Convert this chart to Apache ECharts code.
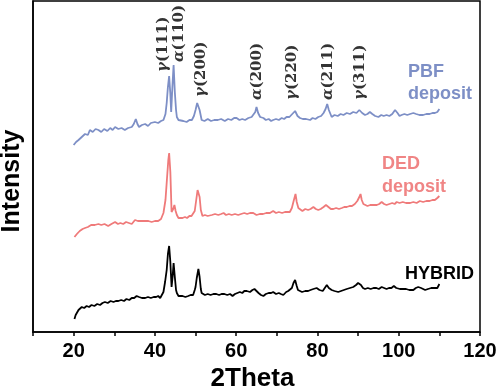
<!DOCTYPE html>
<html>
<head>
<meta charset="utf-8">
<script src="https://cdn.jsdelivr.net/npm/echarts@6/dist/echarts.min.js"></script>
<style>html,body{margin:0;padding:0;background:#fff}#c{width:498px;height:386px}</style>
</head>
<body>
<div id="c"></div>
<script>
// x ticks
var xTicks = [20, 40, 60, 80, 100, 120];

// PBF deposit pattern [2theta, intensity (offset)]
var pbf = [[20,187],[20.6,190],[21.2,192],[22,195],[22.8,198],[23.5,197],[24,202],[24.7,200],[25.4,203],[26.1,202],[26.8,200],[27.5,203],[28.3,201],[29,204],[29.6,202],[30.2,205],[31,203],[31.8,204],[32.6,202],[33.4,204],[34.3,205],[34.8,208],[35.3,213],[35.7,208],[36.1,205],[36.8,207],[37.6,208],[38.3,206],[39,209],[40,210],[40.8,209],[41.5,211],[42.1,212],[42.6,218],[42.9,229],[43.2,245],[43.5,256],[43.8,238],[44.0,220],[44.3,245],[44.6,267],[44.9,240],[45.2,222],[45.4,215],[45.8,212],[46.2,210],[47,211],[47.8,210],[48.5,212],[49.1,212],[49.6,216],[50.0,222],[50.4,229],[50.7,230],[51.0,222],[51.5,212],[52.2,211],[53,213],[53.8,211],[54.6,212],[55.5,212],[56.3,213],[57.2,211],[58,213],[58.8,212],[59.5,214],[60.1,214],[60.8,212],[61.5,213],[62.2,212],[63,214],[63.8,215],[64.2,216],[64.7,220],[65.0,225],[65.4,219],[65.9,215],[66.7,214],[67.3,212],[68,213],[68.6,211],[69.1,212],[69.8,213],[70.5,212],[71.2,214],[71.8,213],[72.4,215],[73.1,215],[73.8,218],[74.5,221],[75.1,216],[75.7,214],[76.4,213],[77.2,213],[78.2,212],[78.8,214],[79.5,213],[80.2,215],[80.9,216],[81.5,219],[82.0,223],[82.4,228],[82.8,222],[83.5,215],[84.2,217],[85,216],[85.7,218],[86.4,217],[87.2,219],[88,218],[88.8,220],[89.6,219],[90.3,222],[91,219],[91.7,217],[92.3,218],[92.9,220],[93.5,218],[94.2,216],[95.0,215],[95.7,217],[96.3,216],[97.0,217],[97.7,216],[98.4,218],[99.1,222],[99.7,219],[100.2,216],[100.7,217],[101.4,218],[102.1,217],[102.8,218],[103.6,219],[104.3,218],[105.1,217],[106,217],[106.8,218],[107.6,218],[108.3,219],[108.9,219],[109.5,220],[110,223]];

// DED deposit pattern
var ded = [[20.2,95],[20.8,98],[21.5,101],[22.2,103],[22.8,104],[23.5,105],[24.3,107],[25.2,107],[26.1,108],[26.8,107],[27.6,108],[28.5,106],[29.3,108],[30.2,110],[30.9,108],[31.5,109],[32.2,108],[32.9,110],[33.6,109],[34.3,108],[35.1,112],[35.8,111],[36.6,111],[37.5,111],[38.4,111],[39.2,110],[40,111],[40.8,111],[41.5,113],[42.1,119],[42.6,132],[43.0,155],[43.3,172],[43.5,179],[43.8,160],[44.1,120],[44.5,123],[44.8,127],[45.1,121],[45.4,117],[45.8,114],[46.2,112],[46.8,114],[47.4,115],[47.9,114],[48.5,116],[49.0,116],[49.4,117],[49.8,121],[50.2,133],[50.5,142],[50.7,144],[51.0,135],[51.3,122],[51.7,116],[52.3,117],[53,116],[54.0,117],[54.8,118],[55.6,117],[56.3,118],[56.9,119],[57.5,117],[58.2,118],[58.9,117],[59.7,118],[60.5,117],[61.2,118],[62,119],[62.7,118],[63.4,119],[64.2,119],[65.0,117],[65.8,118],[66.6,118],[67.4,119],[68.3,119],[69.1,121],[69.8,119],[70.5,120],[71.3,119],[72,120],[72.7,120],[73.2,120],[73.7,124],[74.2,132],[74.6,138],[74.9,130],[75.3,124],[75.7,122],[76.3,121],[77.0,123],[77.7,122],[78.3,123],[79.0,125],[79.6,123],[80.2,122],[80.8,123],[81.5,125],[82.1,127],[82.7,125],[83.3,123],[83.9,123],[84.6,124],[85.3,123],[86,124],[86.6,125],[87.2,125],[87.9,126],[88.5,126],[89.2,128],[89.8,131],[90.3,135],[90.6,138],[90.9,132],[91.3,128],[91.7,127],[92.3,126],[93,127],[93.8,127],[94.6,127],[95.2,128],[95.8,130],[96.4,128],[97,127],[97.7,128],[98.4,129],[99,128],[99.5,130],[100.2,129],[101,130],[101.8,129],[102.8,129],[103.6,130],[104.4,129],[105.2,131],[106,130],[106.8,131],[107.6,131],[108.3,132],[108.9,132],[109.5,134],[110,136]];

// HYBRID pattern
var hybrid = [[20.2,13],[20.5,17],[20.7,19],[21.2,22],[22.0,25],[22.6,24],[23.2,26],[23.8,25],[24.4,27],[25.1,26],[25.8,28],[26.5,27],[27.1,29],[27.7,30],[28.4,29],[29.1,31],[29.8,30],[30.4,31],[31.0,31],[31.7,32],[32.4,31],[33.0,33],[33.7,32],[34.3,34],[34.9,34],[35.5,36],[36.1,35],[36.8,34],[37.6,34],[38.3,35],[39.0,34],[39.7,35],[40.3,35],[40.8,36],[41.3,34],[41.7,34],[42.1,40],[42.5,50],[42.9,62],[43.2,78],[43.5,86],[43.8,70],[44.1,45],[44.35,55],[44.6,69],[44.9,55],[45.2,42],[45.4,39],[45.8,36],[46.2,35],[46.8,36],[47.5,35],[48.2,36],[48.8,37],[49.4,37],[49.8,42],[50.0,45],[50.3,54],[50.7,63],[51.0,55],[51.3,43],[51.5,39],[52.3,37],[53,38],[53.7,37],[54.4,38],[55.1,38],[55.8,37],[56.4,38],[57.1,38],[57.8,37],[58.5,38],[59.1,36],[59.7,38],[60.3,39],[60.9,40],[61.5,39],[62.0,41],[62.6,41],[63.0,40],[63.4,40],[64.0,42],[64.5,43],[65.0,41],[65.5,39],[66.1,37],[66.7,36],[67.3,38],[68,39],[68.6,39],[69.1,40],[69.8,38],[70.5,39],[71.0,38],[71.6,37],[72.3,40],[72.8,41],[73.2,42],[73.7,44],[74.1,49],[74.5,52],[74.9,46],[75.2,42],[75.5,41],[76.2,40],[77.0,41],[77.7,41],[78.3,42],[79.0,43],[79.8,44],[80.5,42],[81.3,41],[81.8,44],[82.3,47],[82.8,44],[83.5,42],[84.2,41],[85.1,40],[85.8,41],[86.5,42],[87.2,43],[88,44],[88.8,45],[89.5,47],[90.0,49],[90.3,50],[90.7,47],[91.2,44],[91.7,43],[92.4,44],[93.1,43],[93.8,44],[94.5,44],[95.1,43],[95.8,45],[96.4,44],[97.0,43],[97.6,44],[98.2,44],[98.8,46],[99.4,44],[100.3,43],[101,43],[101.8,43],[102.6,42],[103.6,42],[104.2,44],[104.8,45],[105.5,44],[106.5,42],[107.2,43],[108,44],[108.9,44],[109.5,44],[110,48]];

// Peak annotations
var peakGreek = ['γ', 'α', 'γ', 'α', 'γ', 'α', 'γ'];
var peakHkl = ['(111)', '(110)', '(200)', '(200)', '(220)', '(211)', '(311)'];
var peakX = [41.9, 45.9, 51.3, 65.1, 73.7, 82.6, 90.5];
var peakY = [260, 270, 235, 232, 232, 232, 232];

var seriesNames = ['PBF\ndeposit', 'DED\ndeposit', 'HYBRID'];
var colors = ['#7d8fc6', '#ef7a7a', '#000000'];

var chart = echarts.init(document.getElementById('c'), null, {renderer: 'canvas'});

var peakData = peakX.map(function (x, i) {
  return {value: [x, peakY[i]], label: {formatter: '{g|' + peakGreek[i] + '}{n|' + peakHkl[i] + '}'}};
});

var option = {
  animation: false,
  backgroundColor: '#fff',
  grid: {left: 33, right: 18, top: 1, bottom: 54, show: true, borderColor: '#000', borderWidth: 1.5, outerBoundsMode: 'none'},
  xAxis: {
    type: 'value', min: 10, max: 120, interval: 10,
    name: '2Theta', nameLocation: 'middle', nameGap: 28,
    nameTextStyle: {fontFamily: 'Liberation Sans', fontWeight: 'bold', fontSize: 26, color: '#000', padding: [0, 8, 0, 0]},
    axisLine: {lineStyle: {color: '#000', width: 1.5}},
    axisTick: {length: 4, lineStyle: {color: '#000', width: 1.5}},
    splitLine: {show: false},
    axisLabel: {
      margin: 9, fontFamily: 'Liberation Sans', fontWeight: 'bold', fontSize: 20, color: '#000',
      formatter: function (v) { return xTicks.indexOf(v) >= 0 ? String(v) : ''; }
    }
  },
  yAxis: {
    type: 'value', min: 0, max: 331,
    axisLine: {show: true, lineStyle: {color: '#000', width: 1.5}},
    axisTick: {show: false}, axisLabel: {show: false}, splitLine: {show: false}
  },
  series: [
    {type: 'line', data: pbf, showSymbol: false, lineStyle: {color: colors[0], width: 1.8}, silent: true},
    {type: 'line', data: ded, showSymbol: false, lineStyle: {color: colors[1], width: 1.8}, silent: true},
    {type: 'line', data: hybrid, showSymbol: false, lineStyle: {color: colors[2], width: 1.8}, silent: true},
    {
      type: 'scatter', data: peakData, symbolSize: 0, silent: true,
      label: {
        show: true, position: 'inside', rotate: 90, align: 'left', verticalAlign: 'middle',
        rich: {
          g: {fontFamily: 'DejaVu Serif', fontStyle: 'italic', fontWeight: 'bold', fontSize: 15, color: '#000'},
          n: {fontFamily: 'DejaVu Serif', fontWeight: 'bold', fontSize: 15, color: '#000'}
        }
      }
    }
  ],
  graphic: [
    {type: 'text', x: 12, y: 181, rotation: Math.PI / 2, style: {text: 'Intensity', fill: '#000', font: 'bold 25px "Liberation Sans"', align: 'center', verticalAlign: 'middle'}},
    {type: 'text', left: 408, top: 61, style: {text: seriesNames[0], fill: colors[0], font: 'bold 18px "Liberation Sans"', lineHeight: 22}},
    {type: 'text', left: 382, top: 153, style: {text: seriesNames[1], fill: '#f08585', font: 'bold 18px "Liberation Sans"', lineHeight: 23}},
    {type: 'text', left: 405, top: 265, style: {text: seriesNames[2], fill: '#000', font: 'bold 18px "Liberation Sans"'}}
  ]
};
chart.setOption(option);
</script>
</body>
</html>
